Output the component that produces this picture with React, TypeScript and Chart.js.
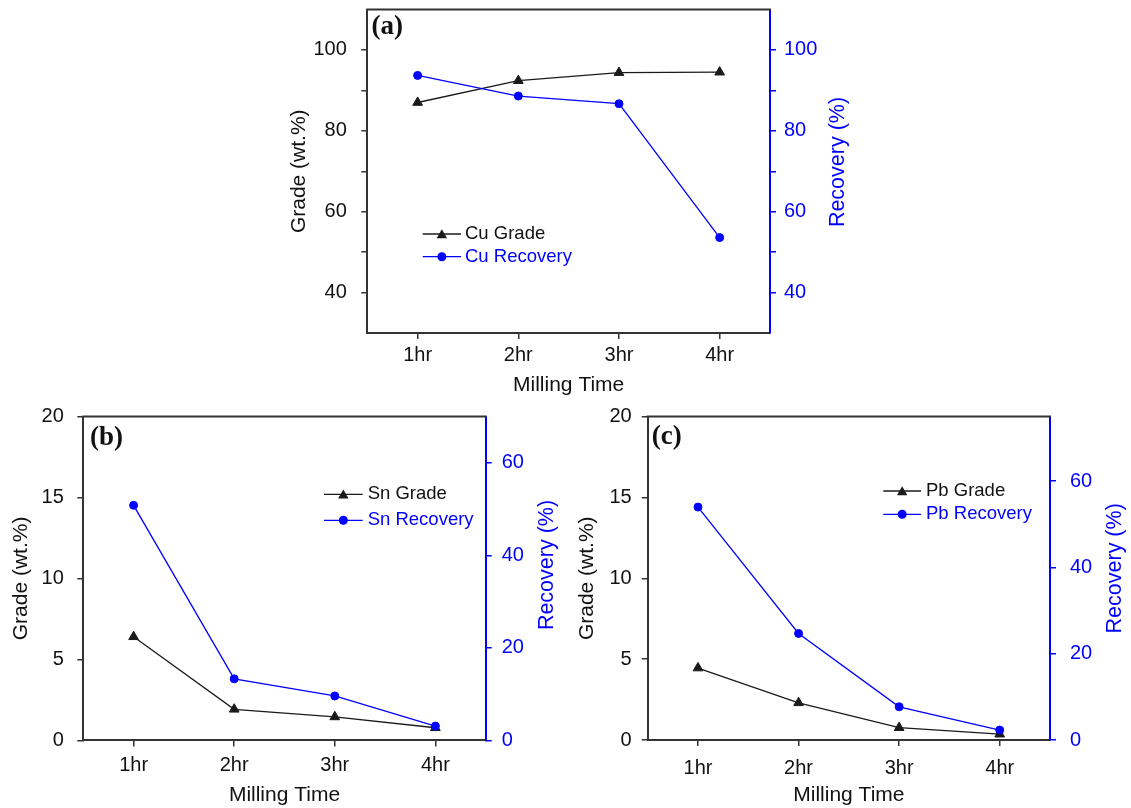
import React, { useEffect, useRef } from 'react';
import { Chart, registerables } from 'chart.js';

Chart.register(...registerables);

// ---------- data ----------
const categories = ['1hr', '2hr', '3hr', '4hr'];

const cuGrade = [87.0, 92.4, 94.4, 94.5];
const cuRecovery = [93.7, 88.6, 86.7, 53.6];

const snGrade = [6.4, 1.92, 1.45, 0.78];
const snRecovery = [50.8, 13.3, 9.6, 3.1];

const pbGrade = [4.45, 2.3, 0.76, 0.36];
const pbRecovery = [54.0, 24.7, 7.7, 2.3];

// tick values
const cuGradeTicks = [40, 50, 60, 70, 80, 90, 100];
const cuRecoveryTicks = [40, 50, 60, 70, 80, 90, 100];
const cuLabelledTicks = [40, 60, 80, 100];
const gradeTicks = [0, 5, 10, 15, 20];
const recoveryTicks = [0, 20, 40, 60];

// ---------- styles ----------
const FONT = '"Liberation Sans", Arial, sans-serif';
const TEXT = '#111111';
const AXIS = '#333333';
const BLUE = '#0000ff';
const DARK = '#1a1a1a';

type PanelSpec = {
  tag: string;
  metal: string;
  grade: number[];
  recovery: number[];
  gMin: number; gMax: number; gTicks: number[]; gLabels: number[];
  rMin: number; rMax: number; rTicks: number[]; rLabels: number[];
  padding: { left: number; right: number; top: number; bottom: number };
  yLWidth: number; yRWidth: number; xHeight: number;
  yLPad: number; yRPad: number; xPad: number;
  tagX: number; tagY: number;
  rTitleX: number; rTitleY: number;
  legX: number; legY1: number; legY2: number; legLine: number; legTextGap: number;
};

const panels: PanelSpec[] = [
  {
    tag: '(a)', metal: 'Cu', grade: cuGrade, recovery: cuRecovery,
    gMin: 30, gMax: 110, gTicks: cuGradeTicks, gLabels: cuLabelledTicks,
    rMin: 30, rMax: 110, rTicks: cuRecoveryTicks, rLabels: cuLabelledTicks,
    padding: { left: 286.4, right: 291, top: 9.5, bottom: 410.4 },
    yLWidth: 80.9, yRWidth: 70, xHeight: 64.6,
    yLPad: 14.5, yRPad: 8, xPad: 4,
    tagX: 371.5, tagY: 27,
    rTitleX: 838, rTitleY: 162,
    legX: 422.7, legY1: 234, legY2: 256.7, legLine: 38.3, legTextGap: 4,
  },
  {
    tag: '(b)', metal: 'Sn', grade: snGrade, recovery: snRecovery,
    gMin: 0, gMax: 20, gTicks: gradeTicks, gLabels: gradeTicks,
    rMin: 0, rMax: 70, rTicks: recoveryTicks, rLabels: recoveryTicks,
    padding: { left: 8.4, right: 575.3, top: 416.5, bottom: 0 },
    yLWidth: 74.9, yRWidth: 70, xHeight: 67.6,
    yLPad: 13.5, yRPad: 10, xPad: 7.5,
    tagX: 90, tagY: 438.3,
    rTitleX: 547.5, rTitleY: 565,
    legX: 324, legY1: 494.3, legY2: 520.3, legLine: 38.7, legTextGap: 5,
  },
  {
    tag: '(c)', metal: 'Pb', grade: pbGrade, recovery: pbRecovery,
    gMin: 0, gMax: 20, gTicks: gradeTicks, gLabels: gradeTicks,
    rMin: 0, rMax: 75, rTicks: recoveryTicks, rLabels: recoveryTicks,
    padding: { left: 574.4, right: 11, top: 416.5, bottom: 0 },
    yLWidth: 73.3, yRWidth: 70, xHeight: 68,
    yLPad: 10, yRPad: 14, xPad: 10.5,
    tagX: 651.7, tagY: 437.3,
    rTitleX: 1115.5, rTitleY: 568.3,
    legX: 883.3, legY1: 491, legY2: 514.3, legLine: 37.7, legTextGap: 5,
  },
];

function drawTriangle(ctx: CanvasRenderingContext2D, x: number, y: number, r: number) {
  ctx.beginPath();
  for (let i = 0; i < 3; i++) {
    const a = (i * 2 * Math.PI) / 3;
    const px = x + Math.sin(a) * r;
    const py = y - Math.cos(a) * r;
    if (i === 0) ctx.moveTo(px, py);
    else ctx.lineTo(px, py);
  }
  ctx.closePath();
  ctx.fill();
}

function makeDecor(p: PanelSpec) {
  return {
    id: 'decor' + p.metal,
    afterDraw(chart: Chart) {
      const { ctx, chartArea } = chart;
      const { left, right, top } = chartArea;
      ctx.save();
      // top frame line
      ctx.strokeStyle = AXIS;
      ctx.lineWidth = 2;
      ctx.beginPath();
      ctx.moveTo(left - 1, top);
      ctx.lineTo(right + 1, top);
      ctx.stroke();

      // panel tag
      ctx.font = 'bold 27px "Liberation Serif", "Times New Roman", serif';
      ctx.fillStyle = TEXT;
      ctx.textAlign = 'left';
      ctx.textBaseline = 'middle';
      ctx.fillText(p.tag, p.tagX, p.tagY);

      // right axis title (reads bottom-to-top)
      ctx.save();
      ctx.translate(p.rTitleX, p.rTitleY);
      ctx.rotate(-Math.PI / 2);
      ctx.font = '21.5px ' + FONT;
      ctx.fillStyle = BLUE;
      ctx.textAlign = 'center';
      ctx.textBaseline = 'middle';
      ctx.fillText('Recovery (%)', 0, 0);
      ctx.restore();

      // legend
      const x1 = p.legX;
      const x2 = p.legX + p.legLine;
      const xm = (x1 + x2) / 2;
      ctx.lineWidth = 1.3;
      ctx.font = '18.5px ' + FONT;
      ctx.textAlign = 'left';
      ctx.textBaseline = 'middle';
      // grade row
      ctx.strokeStyle = DARK;
      ctx.fillStyle = DARK;
      ctx.beginPath();
      ctx.moveTo(x1, p.legY1);
      ctx.lineTo(x2, p.legY1);
      ctx.stroke();
      drawTriangle(ctx, xm, p.legY1 + 1.2, 6);
      ctx.fillStyle = TEXT;
      ctx.fillText(p.metal + ' Grade', x2 + p.legTextGap, p.legY1);
      // recovery row
      ctx.strokeStyle = BLUE;
      ctx.fillStyle = BLUE;
      ctx.beginPath();
      ctx.moveTo(x1, p.legY2);
      ctx.lineTo(x2, p.legY2);
      ctx.stroke();
      ctx.beginPath();
      ctx.arc(xm, p.legY2, 4.5, 0, Math.PI * 2);
      ctx.fill();
      ctx.fillText(p.metal + ' Recovery', x2 + p.legTextGap, p.legY2);
      ctx.restore();
    },
  };
}

function buildConfig(p: PanelSpec): any {
  const font = { family: FONT, size: 20 };
  const titleFont = { family: FONT, size: 21 };
  const setTicks = (ticks: number[]) => (s: any) => {
    s.ticks = ticks.map((v) => ({ value: v }));
  };
  return {
    type: 'line',
    data: {
      labels: categories,
      datasets: [
        {
          label: p.metal + ' Grade',
          data: p.grade,
          yAxisID: 'yL',
          order: 1,
          borderColor: DARK,
          backgroundColor: DARK,
          pointBackgroundColor: DARK,
          pointBorderColor: DARK,
          pointStyle: 'triangle',
          pointRadius: 5.6,
          pointBorderWidth: 1,
          borderWidth: 1.3,
          tension: 0,
          clip: false,
        },
        {
          label: p.metal + ' Recovery',
          data: p.recovery,
          yAxisID: 'yR',
          order: 0,
          borderColor: BLUE,
          backgroundColor: BLUE,
          pointBackgroundColor: BLUE,
          pointBorderColor: BLUE,
          pointStyle: 'circle',
          pointRadius: 4,
          pointBorderWidth: 1,
          borderWidth: 1.3,
          tension: 0,
          clip: false,
        },
      ],
    },
    options: {
      responsive: false,
      animation: false,
      events: [],
      layout: { padding: p.padding },
      plugins: { legend: { display: false }, tooltip: { enabled: false } },
      scales: {
        x: {
          type: 'category',
          offset: true,
          grid: { drawOnChartArea: false, drawTicks: true, tickLength: 6, color: AXIS, lineWidth: 1.5 },
          border: { display: true, color: AXIS, width: 2 },
          ticks: { font, color: TEXT, padding: p.xPad, maxRotation: 0, minRotation: 0, autoSkip: false },
          title: { display: true, text: 'Milling Time', font: titleFont, color: TEXT, padding: 0 },
          afterFit: (s: any) => {
            s.height = p.xHeight;
            s.paddingLeft = 0;
            s.paddingRight = 0;
          },
        },
        yL: {
          type: 'linear',
          position: 'left',
          min: p.gMin,
          max: p.gMax,
          bounds: 'data',
          afterBuildTicks: setTicks(p.gTicks),
          grid: { drawOnChartArea: false, drawTicks: true, tickLength: 6, color: AXIS, lineWidth: 1.5 },
          border: { display: true, color: AXIS, width: 2 },
          ticks: {
            font,
            color: TEXT,
            padding: p.yLPad,
            callback: (v: number) => (p.gLabels.includes(v) ? String(v) : ''),
          },
          title: { display: true, text: 'Grade (wt.%)', font: titleFont, color: TEXT, padding: 0 },
          afterFit: (s: any) => {
            s.width = p.yLWidth;
            s.paddingTop = 0;
            s.paddingBottom = 0;
          },
        },
        yR: {
          type: 'linear',
          position: 'right',
          min: p.rMin,
          max: p.rMax,
          bounds: 'data',
          afterBuildTicks: setTicks(p.rTicks),
          grid: { drawOnChartArea: false, drawTicks: true, tickLength: 6, color: BLUE, lineWidth: 1.5 },
          border: { display: true, color: BLUE, width: 2 },
          ticks: {
            font,
            color: BLUE,
            padding: p.yRPad,
            callback: (v: number) => (p.rLabels.includes(v) ? String(v) : ''),
          },
          title: { display: false },
          afterFit: (s: any) => {
            s.width = p.yRWidth;
            s.paddingTop = 0;
            s.paddingBottom = 0;
          },
        },
      },
    },
    plugins: [makeDecor(p)],
  };
}

function Panel({ spec }: { spec: PanelSpec }) {
  const ref = useRef<HTMLCanvasElement>(null);
  useEffect(() => {
    if (!ref.current) return;
    const chart = new Chart(ref.current, buildConfig(spec));
    return () => chart.destroy();
  }, [spec]);
  return (
    <canvas
      ref={ref}
      width={1131}
      height={808}
      style={{ position: 'absolute', left: 0, top: 0, width: 1131, height: 808 }}
    />
  );
}

export default function App() {
  return (
    <div style={{ position: 'absolute', left: 0, top: 0, width: 1131, height: 808, background: '#ffffff' }}>
      {panels.map((p) => (
        <Panel key={p.tag} spec={p} />
      ))}
    </div>
  );
}
